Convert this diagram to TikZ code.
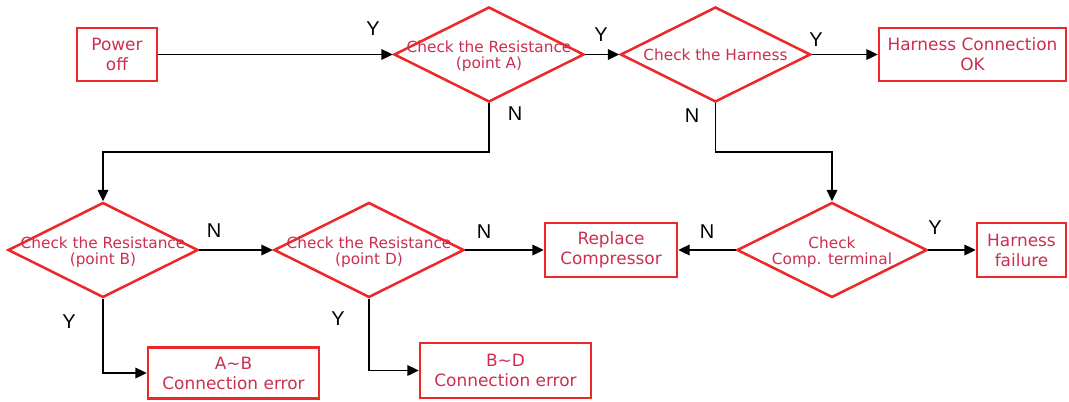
\documentclass[tikz,border=0pt]{standalone}
\usepackage{fontspec}
\setmainfont{DejaVu Sans}
\newfontfamily\ynfont{Liberation Sans}
\usetikzlibrary{shapes.geometric,arrows.meta}
\definecolor{bordred}{RGB}{237,40,40}
\definecolor{txtred}{RGB}{205,45,80}
\tikzset{
  box/.style={draw=bordred, line width=1.9pt, rectangle, inner sep=0pt, text=txtred, align=center,
    font=\fontsize{12.7}{15}\selectfont},
  dia/.style={draw=bordred, line width=1.9pt, diamond, inner sep=0pt, minimum width=142.5pt, minimum height=71.25pt},
  dtext/.style={text=txtred, align=center, inner sep=0pt, font=\fontsize{11.5}{12.3}\selectfont},
  conn/.style={line width=0.95pt, -{Triangle[length=8.5pt,width=8pt]}},
  yn/.style={font=\ynfont\fontsize{15}{16}\selectfont, inner sep=0pt}
}
\begin{document}
\begin{tikzpicture}[x=0.75pt,y=-0.75pt]
\useasboundingbox (0,0) rectangle (1069,401);
% boxes
\node[box, minimum width=60pt, minimum height=39.75pt] (P) at (117,54.5) {Power\\off};
\node[box, minimum width=140.25pt, minimum height=39.75pt] (OK) at (972.5,54.5) {Harness Connection\\OK};
\node[box, minimum width=99pt, minimum height=40.5pt] (R) at (611,250) {Replace\\Compressor};
\node[box, minimum width=66.75pt, minimum height=40.5pt] (HF) at (1021.5,250) {Harness\\failure};
\node[box, minimum width=128.25pt, minimum height=38.25pt] (AB) at (233.5,373) {A\char`\~B\\Connection error};
\node[box, minimum width=128.25pt, minimum height=41.25pt] (BD) at (505.5,370.5) {B\char`\~D\\Connection error};
% diamonds
\node[dia] (A) at (489,54.5) {};
\node[dtext] at ([yshift=-1.5pt]A) {Check the Resistance\\(point A)};
\node[dia] (H) at (715.5,54.5) {};
\node[dtext] at (H) {Check the Harness};
\node[dia] (B) at (103,250) {};
\node[dtext] at ([yshift=-1.5pt]B) {Check the Resistance\\(point B)};
\node[dia] (D) at (369,250) {};
\node[dtext] at ([yshift=-1.5pt]D) {Check the Resistance\\(point D)};
\node[dia] (C) at (832,250) {};
\node[dtext] at ([yshift=-1.5pt]C) {Check\\Comp. terminal};
% connectors
\coordinate (a1) at (489,152);
\coordinate (a2) at (103,152);
\coordinate (h1) at (715.5,152);
\coordinate (h2) at (832,152);
\draw[conn] (P.east) -- (A.west);
\draw[conn] (A.east) -- (H.west);
\draw[conn] (H.east) -- (OK.west);
\draw[conn] (A.south) -- (a1) -- (a2) -- (B.north);
\draw[conn] (H.south) -- (h1) -- (h2) -- (C.north);
\draw[conn] (B.east) -- (D.west);
\draw[conn] (D.east) -- (R.west);
\draw[conn] (C.west) -- (R.east);
\draw[conn] (C.east) -- (HF.west);
\draw[conn] (B.south) |- (AB.west);
\draw[conn] (D.south) |- (BD.west);
% labels
\node[yn] (y1) at (373,29) {Y};
\node[yn] (y2) at (601,35) {Y};
\node[yn] (y3) at (816,40) {Y};
\node[yn] (n1) at (515,114) {N};
\node[yn] (n2) at (692,116) {N};
\node[yn] (n3) at (214,231) {N};
\node[yn] (n4) at (484,232) {N};
\node[yn] (n5) at (707,232) {N};
\node[yn] (y4) at (935,228) {Y};
\node[yn] (y5) at (69,322) {Y};
\node[yn] (y6) at (338,319) {Y};
\end{tikzpicture}
\end{document}
